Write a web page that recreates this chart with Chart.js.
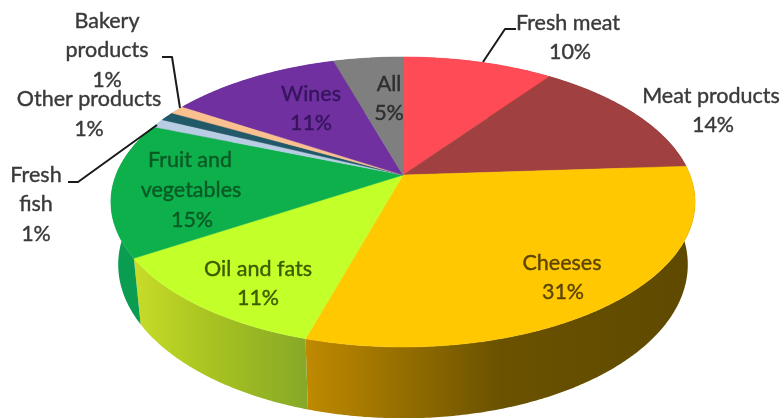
<!DOCTYPE html>
<html>
<head>
<meta charset="utf-8">
<style>
  html, body { margin: 0; padding: 0; background: #fff; }
  canvas { display: block; }
</style>
<script src="https://cdn.jsdelivr.net/npm/chart.js@4"></script>
</head>
<body>
<canvas id="myChart" width="783" height="418"></canvas>
<script>
// values (printed labels are rounded)
const categories = ["Fresh meat", "Meat products", "Cheeses", "Oil and fats", "Fruit and vegetables",
  "Fresh fish", "Other products", "Bakery products", "Wines", "All"];
const shares = [10, 14, 30.5, 11.5, 15, 1, 1, 1, 11.4, 4.6];
const shareLabels = ["10%", "14%", "31%", "11%", "15%", "1%", "1%", "1%", "11%", "5%"];

const topColors = ["#FF4B55", "#A04040", "#FFC800", "#C3FF28", "#0DB04B", "#B8CCE4", "#215968", "#FAC090", "#7030A0", "#7F7F7F"];
const sideColors = [
  ["#B03038", "#B03038"],
  ["#702C2C", "#702C2C"],
  ["#C08A00", "#6A5200", "#5E4900"],
  ["#C8DC28", "#A4C020", "#86A828"],
  ["#0A9C50", "#0A9C50"],
  ["#8090A0", "#8090A0"],
  ["#153E48", "#153E48"],
  ["#B08660", "#B08660"],
  ["#4E2070", "#4E2070"],
  ["#585858", "#585858"]
];

// text rows of each label: [name row(s), x, y], the share goes on the last row
const labelRows = [
  [["Fresh meat", 568, 23], ["", 570, 52]],
  [["Meat products", 711, 96], ["", 713, 125]],
  [["Cheeses", 562, 263], ["", 563, 292]],
  [["Oil and fats", 258, 269], ["", 258, 298]],
  [["Fruit and", 190, 160], ["vegetables", 191, 190], ["", 192, 220]],
  [["Fresh", 36, 175], ["fish", 36, 204], ["", 36, 234]],
  [["Other products", 89, 99], ["", 89, 129]],
  [["Bakery", 107, 21], ["products", 107, 50], ["", 107, 80]],
  [["Wines", 311, 94], ["", 311, 123]],
  [["All", 389, 84], ["", 389, 113]]
];
const labelColors = ["#3A3A3A", "#3A3A3A", "#5C4500", "#3D5C00", "#0A5A25", "#3A3A3A", "#3A3A3A", "#3A3A3A", "#36145E", "#2E2E2E"];

const leaderLines = [
  [[483, 62], [505, 29], [516, 29]],
  [[162, 57], [172, 57], [180, 108]],
  [[68, 182], [78, 182], [157, 125]]
];

// perspective of the pie: apex position, radii, tilt and the drop to the lower rim
const apexX = 403, apexY = 175;
const radiusX = 287, radiusY = 140, tilt = 0.186;
const lowerScaleX = 0.975, lowerScaleY = 1.06, drop = 61;

function rimPoint(angle, lower) {
  const w = 1 - tilt * Math.sin(angle);
  const px = radiusX * Math.cos(angle) / w;
  const py = radiusY * Math.sin(angle) / w;
  if (lower) return [apexX + px * lowerScaleX, apexY + drop + py * lowerScaleY];
  return [apexX + px, apexY + py];
}

function rimPath(start, end, lower) {
  const pts = [];
  const n = Math.max(2, Math.ceil((end - start) / 0.01));
  for (let i = 0; i <= n; i++) pts.push(rimPoint(start + (end - start) * i / n, lower));
  return pts;
}

const pie3d = {
  id: "pie3d",
  beforeDatasetsDraw(chart) {
    const c = chart.ctx;
    const arcs = chart.getDatasetMeta(0).data;
    c.save();

    // walls first, the top face covers whatever is behind
    arcs.forEach((arc, i) => {
      const upper = rimPath(arc.startAngle, arc.endAngle, false);
      const lower = rimPath(arc.startAngle, arc.endAngle, true).reverse();
      const all = upper.concat(lower);
      const xs = all.map(p => p[0]);
      const grad = c.createLinearGradient(Math.min(...xs), 0, Math.max(...xs), 0);
      sideColors[i].forEach((col, k) => grad.addColorStop(k / (sideColors[i].length - 1), col));
      c.beginPath();
      all.forEach((p, k) => k ? c.lineTo(p[0], p[1]) : c.moveTo(p[0], p[1]));
      c.closePath();
      c.fillStyle = grad;
      c.fill();
    });

    arcs.forEach((arc, i) => {
      c.beginPath();
      c.moveTo(apexX, apexY);
      rimPath(arc.startAngle, arc.endAngle, false).forEach(p => c.lineTo(p[0], p[1]));
      c.closePath();
      c.fillStyle = topColors[i];
      c.fill();
      // hides the hairline between slices
      c.strokeStyle = topColors[i];
      c.lineWidth = 0.5;
      c.stroke();
    });

    c.strokeStyle = "#1a1a1a";
    c.lineWidth = 2;
    c.lineJoin = "round";
    leaderLines.forEach(line => {
      c.beginPath();
      line.forEach((p, k) => k ? c.lineTo(p[0], p[1]) : c.moveTo(p[0], p[1]));
      c.stroke();
    });

    c.font = "21.5px Lato";
    c.textAlign = "center";
    c.textBaseline = "middle";
    c.lineWidth = 0.4;
    c.filter = "blur(0.4px)";
    labelRows.forEach((rows, i) => {
      c.fillStyle = labelColors[i];
      c.strokeStyle = labelColors[i];
      rows.forEach(r => {
        const text = r[0] || shareLabels[i];
        c.fillText(text, r[1], r[2]);
        c.strokeText(text, r[1], r[2]);
      });
    });

    c.restore();
    return false; // the built-in round pie is replaced by the drawing above
  }
};

const ctx = document.getElementById("myChart").getContext("2d");
new Chart(ctx, {
  type: "pie",
  data: {
    labels: categories,
    datasets: [{ data: shares, backgroundColor: topColors, borderWidth: 0 }]
  },
  options: {
    responsive: false,
    animation: false,
    plugins: { legend: { display: false }, tooltip: { enabled: false } }
  },
  plugins: [pie3d]
});
</script>
</body>
</html>
